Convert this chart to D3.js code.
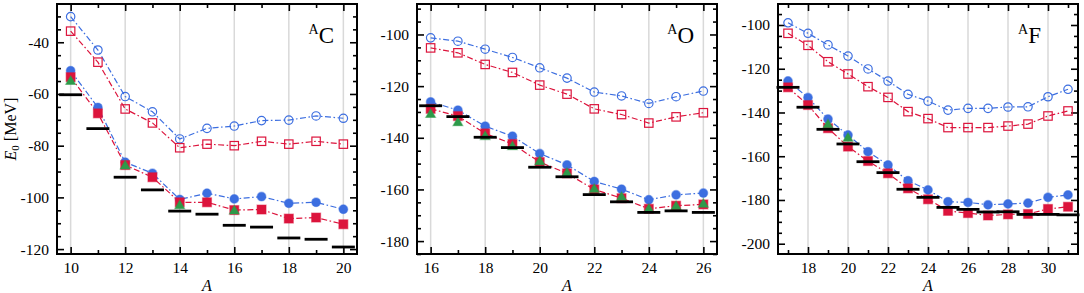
<!DOCTYPE html>
<html>
<head>
<meta charset="utf-8">
<script src="https://cdn.jsdelivr.net/npm/d3@7"></script>
<style>
	body { margin: 0; background: #fff; }
	svg text { font-family: "Liberation Serif", "Times New Roman", serif; fill: #000; }
</style>
</head>
<body>
<svg id="fig" width="1084" height="293"></svg>
<script>
(function () {
	"use strict";

	// --- carbon ---
	var cA = [10, 11, 12, 13, 14, 15, 16, 17, 18, 19, 20];
	var cOpenCirc = [-30.1, -43.0, -61.0, -66.9, -77.4, -73.3, -72.4, -70.3, -70.1, -68.5, -69.4];
	var cOpenSq = [-35.7, -47.7, -65.8, -71.2, -80.8, -79.4, -80.0, -78.3, -79.4, -78.3, -79.4];
	var cFullCirc = [-51.0, -65.2, -86.4, -90.7, -100.8, -98.4, -100.6, -99.7, -102.3, -101.9, -104.6];
	var cFullSq = [-53.5, -67.5, -87.5, -92.2, -101.9, -101.9, -104.9, -104.7, -108.2, -107.8, -110.4];
	var cTriA = [10, 12, 14, 16];
	var cTri = [-55.2, -87.9, -103.3, -105.3];
	var cExp = [-60.3, -73.4, -92.2, -97.1, -105.3, -106.5, -110.8, -111.5, -115.7, -116.2, -119.2];

	// --- oxygen ---
	var oA = [16, 17, 18, 19, 20, 21, 22, 23, 24, 25, 26];
	var oOpenCirc = [-101.3, -102.6, -105.7, -108.9, -112.9, -116.9, -122.3, -123.8, -126.7, -124.1, -121.9];
	var oOpenSq = [-105.2, -107.1, -111.6, -114.7, -119.6, -123.1, -128.8, -131.0, -134.3, -131.9, -130.3];
	var oFullCirc = [-126.1, -129.3, -135.5, -139.4, -146.1, -150.5, -156.9, -159.9, -164.0, -162.1, -161.4];
	var oFullSq = [-128.8, -131.6, -138.3, -142.4, -149.4, -153.8, -160.0, -163.4, -167.5, -166.3, -165.8];
	var oTriA = [16, 17, 18, 19, 20, 21, 22, 23, 24, 25, 26];
	var oTri = [-131.0, -134.2, -139.6, -143.5, -149.3, -153.8, -160.0, -163.1, -167.7, -166.7, -165.8];
	var oExp = [-127.6, -131.8, -139.8, -143.8, -151.4, -155.1, -162.0, -164.8, -168.9, -168.3, -168.9];

	// --- fluorine ---
	var fA = [17, 18, 19, 20, 21, 22, 23, 24, 25, 26, 27, 28, 29, 30, 31];
	var fOpenCirc = [-99.0, -103.8, -109.1, -114.2, -120.1, -125.6, -131.7, -134.8, -138.9, -138.1, -138.1, -137.5, -137.4, -132.8, -129.4];
	var fOpenSq = [-103.8, -109.3, -116.8, -122.4, -128.2, -133.1, -139.6, -142.8, -146.9, -146.9, -146.9, -146.2, -145.3, -141.6, -139.3];
	var fFullCirc = [-125.6, -133.2, -143.0, -150.3, -157.9, -164.0, -171.2, -175.4, -180.8, -181.1, -182.2, -181.8, -181.4, -178.8, -177.7];
	var fFullSq = [-128.5, -136.6, -147.2, -155.6, -162.2, -167.8, -174.7, -179.7, -185.0, -186.0, -187.1, -186.6, -186.4, -184.1, -183.1];
	var fTriA = [19, 20];
	var fTri = [-145.7, -151.8];
	var fExp = [-128.5, -137.6, -147.7, -154.4, -162.5, -167.5, -175.1, -178.8, -183.4, -184.3, -185.5, -185.4, -186.6, -186.6, -186.8];

	// --- tick labels ---
	var cXTicks = [10, 12, 14, 16, 18, 20];
	var oXTicks = [16, 18, 20, 22, 24, 26];
	var fXTicks = [18, 20, 22, 24, 26, 28, 30];
	var cYTicks = [-120, -100, -80, -60, -40];
	var oYTicks = [-180, -160, -140, -120, -100];
	var fYTicks = [-200, -180, -160, -140, -120, -100];

	var blue = "#3c6ee0";
	var red = "#dc143c";
	var green = "#2e9a4a";

	var top = 4, h = 250, w = 300;
	var svg = d3.select("#fig");

	var panels = [
		{ el: "C", left: 57, xDom: [9.5, 20.5], yDom: [-121.9, -25.2], xT: cXTicks, yT: cYTicks, labelX: 334,
			A: cA, oc: cOpenCirc, os: cOpenSq, fc: cFullCirc, fs: cFullSq, tA: cTriA, t: cTri, ex: cExp },
		{ el: "O", left: 417, xDom: [15.5, 26.5], yDom: [-185.0, -88.2], xT: oXTicks, yT: oYTicks, labelX: 694,
			A: oA, oc: oOpenCirc, os: oOpenSq, fc: oFullCirc, fs: oFullSq, tA: oTriA, t: oTri, ex: oExp },
		{ el: "F", left: 778, xDom: [16.5, 31.5], yDom: [-204.7, -90.4], xT: fXTicks, yT: fYTicks, labelX: 1041,
			A: fA, oc: fOpenCirc, os: fOpenSq, fc: fFullCirc, fs: fFullSq, tA: fTriA, t: fTri, ex: fExp }
	];

	function pairs(xs, ys) {
		return xs.map((a, i) => [a, ys[i]]);
	}

	function drawPanel(p, idx) {
		var g = svg.append("g").attr("transform", "translate(" + p.left + "," + top + ")");
		var x = d3.scaleLinear().domain(p.xDom).range([0, w]);
		var y = d3.scaleLinear().domain(p.yDom).range([h, 0]);

		// grid at labelled A
		g.selectAll(".grid").data(p.xT).enter().append("line")
			.attr("x1", (d) => x(d)).attr("x2", (d) => x(d))
			.attr("y1", 0).attr("y2", h)
			.attr("stroke", "#d9d9d9").attr("stroke-width", 1.5);

		// minor tick positions
		var xMinor = d3.range(Math.ceil(p.xDom[0]), p.xDom[1], 1).filter((v) => p.xT.indexOf(v) < 0);
		var yMinor = d3.range(Math.ceil(p.yDom[0] / 5) * 5, p.yDom[1], 5).filter((v) => p.yT.indexOf(v) < 0);

		function axes(gen, scale, vals, size, pad, labels, tr) {
			var a = g.append("g").attr("transform", tr)
				.call(gen(scale).tickValues(vals).tickSize(-size).tickPadding(pad)
					.tickFormat(labels ? (d) => String(d) : ""));
			a.select(".domain").remove();
			a.selectAll("line").attr("stroke", "#000").attr("stroke-width", 1.6);
			a.selectAll("text").style("font-size", "15.5px").attr("font-family", null);
		}
		axes(d3.axisLeft, y, p.yT, 7, 8, true, null);
		axes(d3.axisLeft, y, yMinor, 4, 8, false, null);
		axes(d3.axisRight, y, p.yT, 7, 8, false, "translate(" + w + ",0)");
		axes(d3.axisRight, y, yMinor, 4, 8, false, "translate(" + w + ",0)");
		axes(d3.axisBottom, x, p.xT, 7, 8, true, "translate(0," + h + ")");
		axes(d3.axisBottom, x, xMinor, 4, 8, false, "translate(0," + h + ")");
		axes(d3.axisTop, x, p.xT, 7, 8, false, null);
		axes(d3.axisTop, x, xMinor, 4, 8, false, null);

		g.append("rect").attr("width", w).attr("height", h)
			.attr("fill", "none").attr("stroke", "#000").attr("stroke-width", 2);

		var line = d3.line().x((d) => x(d[0])).y((d) => y(d[1]));
		var dash = "6,2.5,1.6,2.5";

		[[p.oc, blue], [p.os, red], [p.fc, blue], [p.fs, red]].forEach(function (s) {
			g.append("path").attr("d", line(pairs(p.A, s[0])))
				.attr("fill", "none").attr("stroke", s[1])
				.attr("stroke-width", 1.2).attr("stroke-dasharray", dash);
		});

		// open markers
		g.selectAll(".oc").data(pairs(p.A, p.oc)).enter().append("circle")
			.attr("cx", (d) => x(d[0])).attr("cy", (d) => y(d[1])).attr("r", 4.2)
			.attr("fill", "none").attr("stroke", blue).attr("stroke-width", 1.2);
		g.selectAll(".os").data(pairs(p.A, p.os)).enter().append("rect")
			.attr("x", (d) => x(d[0]) - 4.2).attr("y", (d) => y(d[1]) - 4.2)
			.attr("width", 8.4).attr("height", 8.4)
			.attr("fill", "none").attr("stroke", red).attr("stroke-width", 1.2);

		// filled markers
		g.selectAll(".fc").data(pairs(p.A, p.fc)).enter().append("circle")
			.attr("cx", (d) => x(d[0])).attr("cy", (d) => y(d[1])).attr("r", 4.4)
			.attr("fill", blue).attr("stroke", blue).attr("stroke-opacity", 0.45).attr("stroke-width", 1.2);
		g.selectAll(".fs").data(pairs(p.A, p.fs)).enter().append("rect")
			.attr("x", (d) => x(d[0]) - 4.5).attr("y", (d) => y(d[1]) - 4.5)
			.attr("width", 9).attr("height", 9)
			.attr("fill", red).attr("stroke", red).attr("stroke-opacity", 0.45).attr("stroke-width", 1.2);
		g.selectAll(".tr").data(pairs(p.tA, p.t)).enter().append("path")
			.attr("transform", (d) => "translate(" + x(d[0]) + "," + y(d[1]) + ")")
			.attr("d", d3.symbol().type(d3.symbolTriangle).size(42)())
			.attr("fill", green).attr("stroke", green).attr("stroke-opacity", 0.45).attr("stroke-width", 1.2);

		// experiment bars
		g.selectAll(".ex").data(pairs(p.A, p.ex)).enter().append("line")
			.attr("x1", (d) => x(d[0]) - 11.5).attr("x2", (d) => x(d[0]) + 11.5)
			.attr("y1", (d) => y(d[1])).attr("y2", (d) => y(d[1]))
			.attr("stroke", "#000").attr("stroke-width", 2.8);

		// element label
		var lab = svg.append("text").attr("x", p.labelX).attr("y", top + 39)
			.attr("text-anchor", "end");
		lab.append("tspan").text("A").style("font-size", "14px").attr("dy", -9);
		lab.append("tspan").text(p.el).style("font-size", "23px").attr("dy", 9);

		// x label
		svg.append("text").attr("x", p.left + w / 2).attr("y", 291)
			.attr("text-anchor", "middle").style("font-size", "16px").style("font-style", "italic")
			.text("A");

		if (idx === 0) {
			var yl = svg.append("text")
				.attr("transform", "translate(16," + (top + h / 2) + ") rotate(-90)")
				.attr("text-anchor", "middle").style("font-size", "16px");
			yl.append("tspan").text("E").style("font-style", "italic");
			yl.append("tspan").text("0").style("font-size", "11px").attr("dy", 3);
			yl.append("tspan").text(" [MeV]").attr("dy", -3);
		}
	}

	panels.forEach(drawPanel);
})();
</script>
</body>
</html>
